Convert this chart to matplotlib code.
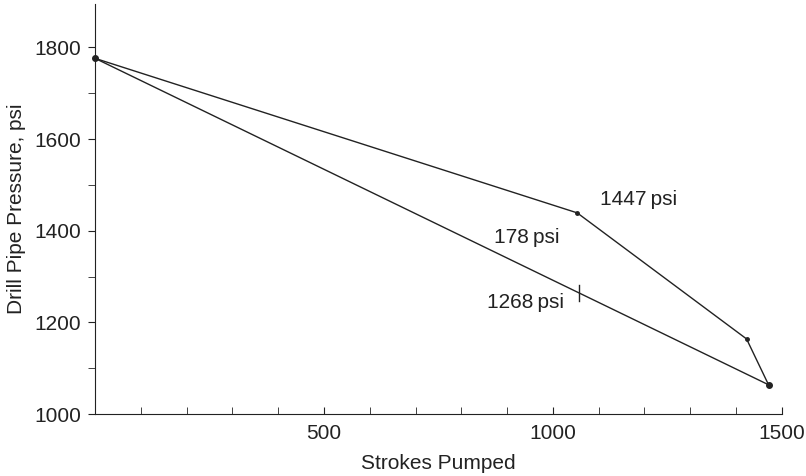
import matplotlib
matplotlib.use("Agg")
import matplotlib.pyplot as plt
from matplotlib.ticker import MultipleLocator

plt.rcParams['font.family'] = ['Liberation Sans', 'DejaVu Sans']

# data
schedule_strokes = [0, 1053, 1423, 1471]
schedule_psi = [1776, 1439, 1164, 1064]
straight_strokes = [0, 1471]
straight_psi = [1776, 1064]
check_strokes = 1057
labels = ["1447\u2009psi", "178\u2009psi", "1268\u2009psi"]

color = "#222222"
fig = plt.figure(figsize=(8.06, 4.76), dpi=100)
ax = fig.add_axes([0.118, 0.130, 0.852, 0.862])

ax.plot(schedule_strokes, schedule_psi, color=color, lw=1.0)
ax.plot(straight_strokes, straight_psi, color=color, lw=1.0)
ax.plot(schedule_strokes[1:3], schedule_psi[1:3], "o", color=color, ms=2.5)
ax.plot([schedule_strokes[0], schedule_strokes[-1]], [schedule_psi[0], schedule_psi[-1]],
        "o", color=color, ms=4, clip_on=False)

# check mark on the straight line
y_check = straight_psi[0] + (straight_psi[1] - straight_psi[0]) * check_strokes / straight_strokes[1]
ax.plot([check_strokes, check_strokes], [y_check - 18, y_check + 18], color=color, lw=1.0)

ax.text(1103, 1468, labels[0], fontsize=15, color=color, va="center", ha="left")
ax.text(1015, 1386, labels[1], fontsize=15, color=color, va="center", ha="right")
ax.text(1025, 1244, labels[2], fontsize=15, color=color, va="center", ha="right")

ax.set_xlim(0, 1500)
ax.set_ylim(1000, 1895)
ax.xaxis.set_major_locator(MultipleLocator(500))
ax.xaxis.set_minor_locator(MultipleLocator(100))
ax.yaxis.set_major_locator(MultipleLocator(200))
ax.yaxis.set_minor_locator(MultipleLocator(100))
ax.set_xticks([500, 1000, 1500])
ax.tick_params(axis="x", which="both", direction="in", length=5, color=color,
               labelsize=15, labelcolor=color, pad=7)
ax.tick_params(axis="y", which="both", direction="out", length=5, color=color,
               labelsize=15, labelcolor=color, pad=5)
for s in ["top", "right"]:
    ax.spines[s].set_visible(False)
for s in ["left", "bottom"]:
    ax.spines[s].set_color(color)
ax.set_xlabel("Strokes Pumped", fontsize=15, color=color, labelpad=8)
ax.set_ylabel("Drill Pipe Pressure, psi", fontsize=15, color=color, labelpad=6)

fig.savefig("out.png", dpi=100)
